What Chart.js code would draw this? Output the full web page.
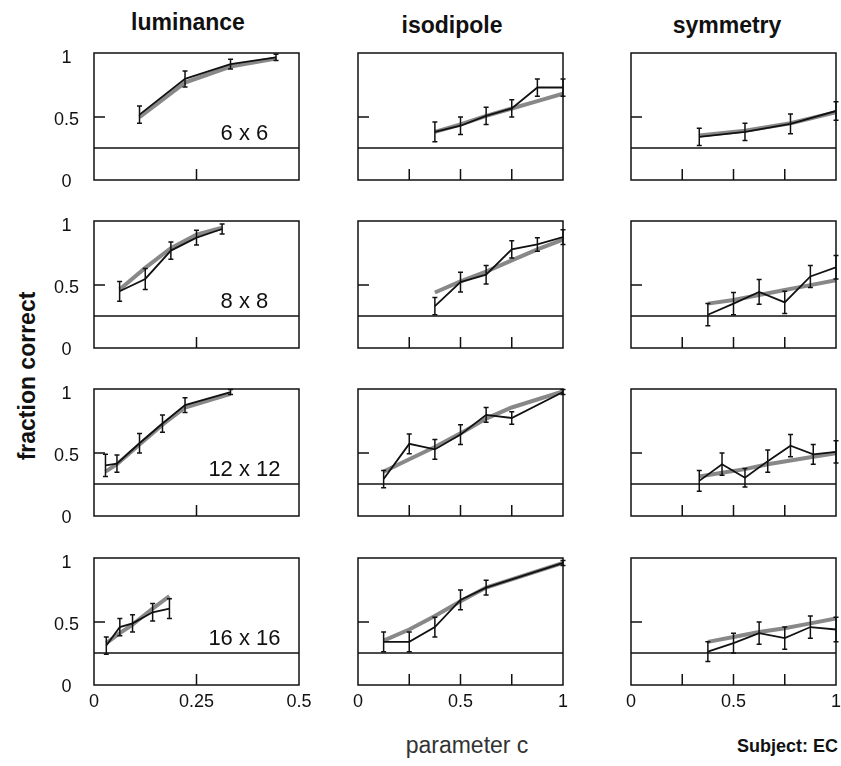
<!DOCTYPE html>
<html>
<head>
<meta charset="utf-8">
<script src="https://cdn.jsdelivr.net/npm/chart.js@4"></script>
<style>
  body { margin: 0; background: #fff; }
  #wrap { position: relative; width: 841px; height: 766px; overflow: hidden; font-family: "Liberation Sans", Arial, sans-serif; color: #111; }
  #wrap canvas { position: absolute; }
  .txt { position: absolute; white-space: nowrap; }
  .titulo { font-size: 23px; font-weight: bold; transform: translateX(-50%); }
</style>
</head>
<body>
<div id="wrap">
  <div class="txt titulo" style="left:188px; top:9px;">luminance</div>
  <div class="txt titulo" style="left:452px; top:12px;">isodipole</div>
  <div class="txt titulo" style="left:727px; top:12px;">symmetry</div>
  <div class="txt" style="left:27px; top:376px; font-size:23px; font-weight:bold; transform:translate(-50%,-50%) rotate(-90deg);">fraction correct</div>
  <div class="txt" style="left:467px; top:732px; font-size:23px; color:#333; transform:translateX(-50%);">parameter c</div>
  <div class="txt" style="right:3px; top:736px; font-size:18px; font-weight:bold;">Subject: EC</div>
</div>
<script>
window.onload = main;

// chance level (4 alternatives)
const chance = 0.25;

// luminance: x = parameter c, y = fraction correct, e = error, f = fitted curve
const lum6x = [0.111, 0.222, 0.333, 0.444];
const lum6y = [0.52, 0.81, 0.93, 0.985];
const lum6e = [0.07, 0.065, 0.04, 0.025];
const lum6f = [0.50, 0.78, 0.91, 0.975];

const lum8x = [0.0625, 0.125, 0.1875, 0.25, 0.3125];
const lum8y = [0.45, 0.55, 0.78, 0.885, 0.955];
const lum8e = [0.08, 0.085, 0.07, 0.06, 0.04];
const lum8f = [0.465, 0.64, 0.80, 0.91, 0.965];

const lum12x = [0.028, 0.056, 0.111, 0.167, 0.222, 0.333];
const lum12y = [0.40, 0.415, 0.58, 0.74, 0.89, 0.995];
const lum12e = [0.09, 0.07, 0.08, 0.07, 0.06, 0.02];
const lum12f = [0.35, 0.41, 0.57, 0.73, 0.87, 0.98];

const lum16x = [0.03, 0.063, 0.094, 0.143, 0.184];
const lum16y = [0.31, 0.46, 0.49, 0.58, 0.61];
const lum16e = [0.07, 0.07, 0.07, 0.07, 0.08];
const lum16f = [0.33, 0.41, 0.48, 0.61, 0.71];

// isodipole
const iso6x = [0.375, 0.5, 0.625, 0.75, 0.875, 1];
const iso6y = [0.38, 0.43, 0.51, 0.57, 0.74, 0.74];
const iso6e = [0.08, 0.07, 0.07, 0.07, 0.07, 0.07];
const iso6f = [0.38, 0.44, 0.51, 0.57, 0.63, 0.69];

const iso8x = [0.375, 0.5, 0.625, 0.75, 0.875, 1];
const iso8y = [0.33, 0.525, 0.585, 0.79, 0.83, 0.89];
const iso8e = [0.07, 0.08, 0.075, 0.07, 0.055, 0.06];
const iso8f = [0.44, 0.53, 0.61, 0.70, 0.79, 0.87];

const iso12x = [0.125, 0.25, 0.375, 0.5, 0.625, 0.75, 1];
const iso12y = [0.29, 0.575, 0.53, 0.65, 0.81, 0.785, 0.995];
const iso12e = [0.07, 0.08, 0.08, 0.08, 0.06, 0.05, 0.02];
const iso12f = [0.35, 0.45, 0.55, 0.66, 0.78, 0.87, 1.0];

const iso16x = [0.125, 0.25, 0.375, 0.5, 0.625, 1];
const iso16y = [0.34, 0.34, 0.46, 0.68, 0.78, 0.98];
const iso16e = [0.08, 0.08, 0.08, 0.08, 0.06, 0.02];
const iso16f = [0.35, 0.44, 0.55, 0.67, 0.78, 0.98];

// symmetry
const sym6x = [0.333, 0.556, 0.778, 1];
const sym6y = [0.34, 0.38, 0.445, 0.55];
const sym6e = [0.07, 0.07, 0.08, 0.075];
const sym6f = [0.35, 0.39, 0.45, 0.54];

const sym8x = [0.375, 0.5, 0.625, 0.75, 0.875, 1];
const sym8y = [0.26, 0.35, 0.445, 0.36, 0.57, 0.645];
const sym8e = [0.09, 0.09, 0.1, 0.09, 0.09, 0.095];
const sym8f = [0.35, 0.38, 0.42, 0.46, 0.50, 0.54];

const sym12x = [0.333, 0.444, 0.556, 0.667, 0.778, 0.889, 1];
const sym12y = [0.275, 0.41, 0.30, 0.435, 0.56, 0.49, 0.51];
const sym12e = [0.085, 0.09, 0.075, 0.09, 0.09, 0.08, 0.09];
const sym12f = [0.31, 0.34, 0.37, 0.41, 0.44, 0.47, 0.50];

const sym16x = [0.375, 0.5, 0.625, 0.75, 0.875, 1];
const sym16y = [0.26, 0.33, 0.41, 0.37, 0.46, 0.44];
const sym16e = [0.08, 0.08, 0.09, 0.09, 0.09, 0.1];
const sym16f = [0.34, 0.38, 0.42, 0.45, 0.49, 0.53];

const sizeLabels = ["6 x 6", "8 x 8", "12 x 12", "16 x 16"];
const yLabels = [0, 0.5, 1];
const xLabelsLum = [0, 0.25, 0.5];
const xLabelsOther = [0, 0.5, 1];
const xMarksLum = [0.25];
const xMarksOther = [0.25, 0.5, 0.75];

// box positions of the panels
const colLeft = [94, 358, 631];
const rowTop = [53, 221, 389, 558];
const padTop = 26;

// box, inner ticks, error bars and size label
const decoPlugin = {
    id: 'deco',
    afterDatasetsDraw(chart, args, opts) {
        var ctx = chart.ctx;
        var a = chart.chartArea;
        var xs = chart.scales.x, ys = chart.scales.y;
        ctx.save();
        ctx.strokeStyle = '#111';
        ctx.lineWidth = 1.5;

        // error bars of the data line
        var ds = chart.data.datasets[0];
        ds.data.forEach(function (p, i) {
            var px = xs.getPixelForValue(p.x);
            var y1 = ys.getPixelForValue(p.y - ds.errores[i]);
            var y2 = ys.getPixelForValue(p.y + ds.errores[i]);
            ctx.beginPath();
            ctx.moveTo(px, y1); ctx.lineTo(px, y2);
            ctx.moveTo(px - 2.5, y1); ctx.lineTo(px + 2.5, y1);
            ctx.moveTo(px - 2.5, y2); ctx.lineTo(px + 2.5, y2);
            ctx.stroke();
        });

        ctx.strokeRect(a.left, a.top, a.right - a.left, a.bottom - a.top);

        ctx.beginPath();
        opts.marks.forEach(function (m) {
            var px = xs.getPixelForValue(m);
            ctx.moveTo(px, a.bottom); ctx.lineTo(px, a.bottom - 11);
        });
        var py = ys.getPixelForValue(0.5);
        ctx.moveTo(a.left, py); ctx.lineTo(a.left + 11, py);
        ctx.stroke();

        if (opts.label) {
            ctx.fillStyle = '#111';
            ctx.font = '22px "Liberation Sans", Arial, sans-serif';
            ctx.textAlign = 'center';
            ctx.textBaseline = 'middle';
            ctx.fillText(opts.label, xs.getPixelForValue(0.367), ys.getPixelForValue(0.36));
        }
        ctx.restore();
    }
};

function puntos(xs, ys) {
    return xs.map(function (x, i) { return { x: x, y: ys[i] }; });
}

function crearPanel(p, fila, col) {
    var canvas = document.createElement('canvas');
    canvas.width = 279;
    canvas.height = padTop + 127 + 34 + 2;
    canvas.style.left = (colLeft[col] - 50) + 'px';
    canvas.style.top = (rowTop[fila] - padTop) + 'px';
    document.getElementById('wrap').appendChild(canvas);

    var xMax = col === 0 ? 0.5 : 1;
    var xLabels = col === 0 ? xLabelsLum : xLabelsOther;
    var tickFont = { family: '"Liberation Sans", Arial, sans-serif', size: 18 };

    new Chart(canvas.getContext('2d'), {
        type: 'line',
        data: {
            datasets: [{
                data: puntos(p.x, p.y),
                errores: p.e,
                borderColor: '#111',
                borderWidth: 1.8,
                pointRadius: 0,
                order: 0
            }, {
                data: puntos(p.x, p.f),
                borderColor: '#888',
                borderWidth: 4,
                pointRadius: 0,
                order: 1
            }, {
                data: [{ x: 0, y: chance }, { x: xMax, y: chance }],
                borderColor: '#111',
                borderWidth: 1.5,
                pointRadius: 0,
                order: 2
            }]
        },
        options: {
            responsive: false,
            animation: false,
            events: [],
            layout: { padding: { top: padTop, right: 24, bottom: 2, left: 0 } },
            plugins: {
                legend: { display: false },
                tooltip: { enabled: false },
                deco: { marks: col === 0 ? xMarksLum : xMarksOther, label: col === 0 ? sizeLabels[fila] : null }
            },
            scales: {
                x: {
                    type: 'linear',
                    min: 0,
                    max: xMax,
                    grid: { display: false, drawTicks: false },
                    border: { display: false },
                    ticks: { display: fila === 3, color: '#111', font: tickFont, padding: 6, maxRotation: 0, callback: v => String(v) },
                    afterBuildTicks: s => { s.ticks = xLabels.map(v => ({ value: v })); },
                    afterFit: s => { s.height = 34; }
                },
                y: {
                    min: -0.01,
                    max: 1.02,
                    grid: { display: false, drawTicks: false },
                    border: { display: false },
                    ticks: { display: col === 0, color: '#111', font: tickFont, padding: 15, labelOffset: 3, crossAlign: 'center', callback: v => String(v) },
                    afterBuildTicks: s => { s.ticks = yLabels.map(v => ({ value: v })); },
                    afterFit: s => { s.width = 50; }
                }
            }
        },
        plugins: [decoPlugin]
    });
}

function main() {
    var paneles = [
        [{ x: lum6x, y: lum6y, e: lum6e, f: lum6f }, { x: iso6x, y: iso6y, e: iso6e, f: iso6f }, { x: sym6x, y: sym6y, e: sym6e, f: sym6f }],
        [{ x: lum8x, y: lum8y, e: lum8e, f: lum8f }, { x: iso8x, y: iso8y, e: iso8e, f: iso8f }, { x: sym8x, y: sym8y, e: sym8e, f: sym8f }],
        [{ x: lum12x, y: lum12y, e: lum12e, f: lum12f }, { x: iso12x, y: iso12y, e: iso12e, f: iso12f }, { x: sym12x, y: sym12y, e: sym12e, f: sym12f }],
        [{ x: lum16x, y: lum16y, e: lum16e, f: lum16f }, { x: iso16x, y: iso16y, e: iso16e, f: iso16f }, { x: sym16x, y: sym16y, e: sym16e, f: sym16f }]
    ];
    paneles.forEach(function (fila, i) {
        fila.forEach(function (p, j) {
            crearPanel(p, i, j);
        });
    });
}
</script>
</body>
</html>
